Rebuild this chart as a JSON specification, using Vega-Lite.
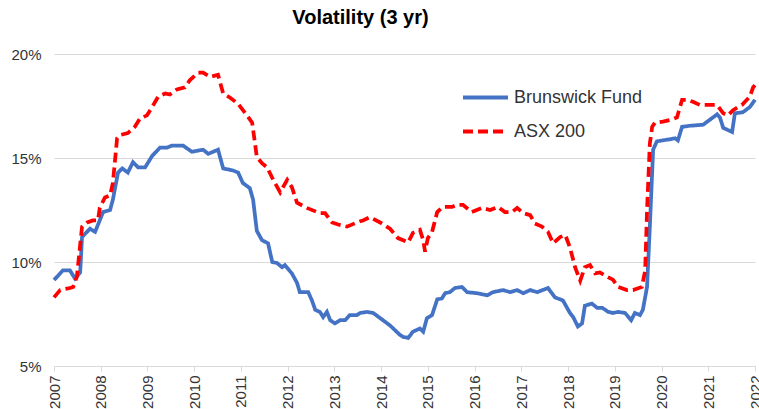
{
  "$schema": "https://vega.github.io/schema/vega-lite/v6.json",
  "width": 701,
  "height": 312,
  "autosize": {"type": "none"},
  "padding": {"left": 54, "top": 54, "right": 4, "bottom": 43},
  "background": "white",
  "config": {
    "font": "Liberation Sans",
    "view": {"stroke": null}
  },
  "title": {
    "text": "Volatility (3 yr)",
    "fontSize": 20,
    "fontWeight": "bold",
    "color": "#000000",
    "anchor": "middle",
    "dx": -44,
    "offset": 19
  },
  "data": {
    "values": [
      {"t": 2007.00, "v": 9.13, "series": "Brunswick Fund"},
      {"t": 2007.19, "v": 9.6, "series": "Brunswick Fund"},
      {"t": 2007.34, "v": 9.6, "series": "Brunswick Fund"},
      {"t": 2007.45, "v": 9.2, "series": "Brunswick Fund"},
      {"t": 2007.56, "v": 9.5, "series": "Brunswick Fund"},
      {"t": 2007.60, "v": 11.2, "series": "Brunswick Fund"},
      {"t": 2007.77, "v": 11.6, "series": "Brunswick Fund"},
      {"t": 2007.88, "v": 11.45, "series": "Brunswick Fund"},
      {"t": 2008.05, "v": 12.4, "series": "Brunswick Fund"},
      {"t": 2008.20, "v": 12.5, "series": "Brunswick Fund"},
      {"t": 2008.26, "v": 13.0, "series": "Brunswick Fund"},
      {"t": 2008.37, "v": 14.3, "series": "Brunswick Fund"},
      {"t": 2008.46, "v": 14.5, "series": "Brunswick Fund"},
      {"t": 2008.58, "v": 14.3, "series": "Brunswick Fund"},
      {"t": 2008.69, "v": 14.8, "series": "Brunswick Fund"},
      {"t": 2008.80, "v": 14.55, "series": "Brunswick Fund"},
      {"t": 2008.95, "v": 14.55, "series": "Brunswick Fund"},
      {"t": 2009.10, "v": 15.1, "series": "Brunswick Fund"},
      {"t": 2009.27, "v": 15.5, "series": "Brunswick Fund"},
      {"t": 2009.42, "v": 15.5, "series": "Brunswick Fund"},
      {"t": 2009.53, "v": 15.6, "series": "Brunswick Fund"},
      {"t": 2009.76, "v": 15.6, "series": "Brunswick Fund"},
      {"t": 2009.95, "v": 15.3, "series": "Brunswick Fund"},
      {"t": 2010.19, "v": 15.4, "series": "Brunswick Fund"},
      {"t": 2010.30, "v": 15.2, "series": "Brunswick Fund"},
      {"t": 2010.51, "v": 15.4, "series": "Brunswick Fund"},
      {"t": 2010.62, "v": 14.5, "series": "Brunswick Fund"},
      {"t": 2010.83, "v": 14.4, "series": "Brunswick Fund"},
      {"t": 2010.94, "v": 14.3, "series": "Brunswick Fund"},
      {"t": 2011.04, "v": 13.8, "series": "Brunswick Fund"},
      {"t": 2011.19, "v": 13.55, "series": "Brunswick Fund"},
      {"t": 2011.26, "v": 13.0, "series": "Brunswick Fund"},
      {"t": 2011.34, "v": 11.5, "series": "Brunswick Fund"},
      {"t": 2011.45, "v": 11.05, "series": "Brunswick Fund"},
      {"t": 2011.58, "v": 10.9, "series": "Brunswick Fund"},
      {"t": 2011.67, "v": 10.0, "series": "Brunswick Fund"},
      {"t": 2011.77, "v": 9.95, "series": "Brunswick Fund"},
      {"t": 2011.88, "v": 9.75, "series": "Brunswick Fund"},
      {"t": 2011.94, "v": 9.85, "series": "Brunswick Fund"},
      {"t": 2012.09, "v": 9.45, "series": "Brunswick Fund"},
      {"t": 2012.20, "v": 9.0, "series": "Brunswick Fund"},
      {"t": 2012.26, "v": 8.55, "series": "Brunswick Fund"},
      {"t": 2012.44, "v": 8.55, "series": "Brunswick Fund"},
      {"t": 2012.52, "v": 8.15, "series": "Brunswick Fund"},
      {"t": 2012.59, "v": 7.7, "series": "Brunswick Fund"},
      {"t": 2012.69, "v": 7.6, "series": "Brunswick Fund"},
      {"t": 2012.76, "v": 7.35, "series": "Brunswick Fund"},
      {"t": 2012.84, "v": 7.6, "series": "Brunswick Fund"},
      {"t": 2012.91, "v": 7.2, "series": "Brunswick Fund"},
      {"t": 2013.01, "v": 7.05, "series": "Brunswick Fund"},
      {"t": 2013.12, "v": 7.2, "series": "Brunswick Fund"},
      {"t": 2013.23, "v": 7.2, "series": "Brunswick Fund"},
      {"t": 2013.33, "v": 7.45, "series": "Brunswick Fund"},
      {"t": 2013.48, "v": 7.45, "series": "Brunswick Fund"},
      {"t": 2013.55, "v": 7.55, "series": "Brunswick Fund"},
      {"t": 2013.70, "v": 7.6, "series": "Brunswick Fund"},
      {"t": 2013.83, "v": 7.55, "series": "Brunswick Fund"},
      {"t": 2013.98, "v": 7.3, "series": "Brunswick Fund"},
      {"t": 2014.19, "v": 6.95, "series": "Brunswick Fund"},
      {"t": 2014.40, "v": 6.5, "series": "Brunswick Fund"},
      {"t": 2014.47, "v": 6.4, "series": "Brunswick Fund"},
      {"t": 2014.58, "v": 6.35, "series": "Brunswick Fund"},
      {"t": 2014.68, "v": 6.65, "series": "Brunswick Fund"},
      {"t": 2014.83, "v": 6.8, "series": "Brunswick Fund"},
      {"t": 2014.90, "v": 6.65, "series": "Brunswick Fund"},
      {"t": 2014.98, "v": 7.3, "series": "Brunswick Fund"},
      {"t": 2015.09, "v": 7.45, "series": "Brunswick Fund"},
      {"t": 2015.20, "v": 8.2, "series": "Brunswick Fund"},
      {"t": 2015.30, "v": 8.25, "series": "Brunswick Fund"},
      {"t": 2015.37, "v": 8.5, "series": "Brunswick Fund"},
      {"t": 2015.47, "v": 8.55, "series": "Brunswick Fund"},
      {"t": 2015.58, "v": 8.75, "series": "Brunswick Fund"},
      {"t": 2015.73, "v": 8.8, "series": "Brunswick Fund"},
      {"t": 2015.84, "v": 8.55, "series": "Brunswick Fund"},
      {"t": 2016.05, "v": 8.5, "series": "Brunswick Fund"},
      {"t": 2016.27, "v": 8.4, "series": "Brunswick Fund"},
      {"t": 2016.39, "v": 8.55, "series": "Brunswick Fund"},
      {"t": 2016.61, "v": 8.65, "series": "Brunswick Fund"},
      {"t": 2016.76, "v": 8.55, "series": "Brunswick Fund"},
      {"t": 2016.91, "v": 8.65, "series": "Brunswick Fund"},
      {"t": 2017.04, "v": 8.5, "series": "Brunswick Fund"},
      {"t": 2017.19, "v": 8.65, "series": "Brunswick Fund"},
      {"t": 2017.34, "v": 8.55, "series": "Brunswick Fund"},
      {"t": 2017.57, "v": 8.75, "series": "Brunswick Fund"},
      {"t": 2017.72, "v": 8.3, "series": "Brunswick Fund"},
      {"t": 2017.89, "v": 8.15, "series": "Brunswick Fund"},
      {"t": 2018.04, "v": 7.55, "series": "Brunswick Fund"},
      {"t": 2018.11, "v": 7.35, "series": "Brunswick Fund"},
      {"t": 2018.21, "v": 6.9, "series": "Brunswick Fund"},
      {"t": 2018.30, "v": 7.05, "series": "Brunswick Fund"},
      {"t": 2018.36, "v": 7.9, "series": "Brunswick Fund"},
      {"t": 2018.51, "v": 8.0, "series": "Brunswick Fund"},
      {"t": 2018.62, "v": 7.8, "series": "Brunswick Fund"},
      {"t": 2018.73, "v": 7.8, "series": "Brunswick Fund"},
      {"t": 2018.86, "v": 7.6, "series": "Brunswick Fund"},
      {"t": 2018.96, "v": 7.55, "series": "Brunswick Fund"},
      {"t": 2019.07, "v": 7.6, "series": "Brunswick Fund"},
      {"t": 2019.22, "v": 7.55, "series": "Brunswick Fund"},
      {"t": 2019.35, "v": 7.2, "series": "Brunswick Fund"},
      {"t": 2019.43, "v": 7.55, "series": "Brunswick Fund"},
      {"t": 2019.54, "v": 7.45, "series": "Brunswick Fund"},
      {"t": 2019.60, "v": 7.7, "series": "Brunswick Fund"},
      {"t": 2019.69, "v": 8.8, "series": "Brunswick Fund"},
      {"t": 2019.75, "v": 11.7, "series": "Brunswick Fund"},
      {"t": 2019.82, "v": 15.4, "series": "Brunswick Fund"},
      {"t": 2019.90, "v": 15.8, "series": "Brunswick Fund"},
      {"t": 2020.03, "v": 15.85, "series": "Brunswick Fund"},
      {"t": 2020.18, "v": 15.9, "series": "Brunswick Fund"},
      {"t": 2020.29, "v": 15.95, "series": "Brunswick Fund"},
      {"t": 2020.35, "v": 15.85, "series": "Brunswick Fund"},
      {"t": 2020.44, "v": 16.5, "series": "Brunswick Fund"},
      {"t": 2020.61, "v": 16.55, "series": "Brunswick Fund"},
      {"t": 2020.89, "v": 16.6, "series": "Brunswick Fund"},
      {"t": 2021.19, "v": 17.1, "series": "Brunswick Fund"},
      {"t": 2021.25, "v": 16.95, "series": "Brunswick Fund"},
      {"t": 2021.32, "v": 16.45, "series": "Brunswick Fund"},
      {"t": 2021.51, "v": 16.25, "series": "Brunswick Fund"},
      {"t": 2021.57, "v": 17.15, "series": "Brunswick Fund"},
      {"t": 2021.74, "v": 17.2, "series": "Brunswick Fund"},
      {"t": 2021.89, "v": 17.45, "series": "Brunswick Fund"},
      {"t": 2022.00, "v": 17.8, "series": "Brunswick Fund"},
      {"t": 2007.00, "v": 8.3, "series": "ASX 200"},
      {"t": 2007.13, "v": 8.65, "series": "ASX 200"},
      {"t": 2007.34, "v": 8.75, "series": "ASX 200"},
      {"t": 2007.41, "v": 8.8, "series": "ASX 200"},
      {"t": 2007.49, "v": 9.3, "series": "ASX 200"},
      {"t": 2007.60, "v": 11.7, "series": "ASX 200"},
      {"t": 2007.71, "v": 11.9, "series": "ASX 200"},
      {"t": 2007.83, "v": 12.0, "series": "ASX 200"},
      {"t": 2007.94, "v": 12.0, "series": "ASX 200"},
      {"t": 2007.98, "v": 12.6, "series": "ASX 200"},
      {"t": 2008.09, "v": 13.1, "series": "ASX 200"},
      {"t": 2008.20, "v": 13.2, "series": "ASX 200"},
      {"t": 2008.26, "v": 13.8, "series": "ASX 200"},
      {"t": 2008.35, "v": 15.95, "series": "ASX 200"},
      {"t": 2008.41, "v": 16.1, "series": "ASX 200"},
      {"t": 2008.58, "v": 16.2, "series": "ASX 200"},
      {"t": 2008.73, "v": 16.5, "series": "ASX 200"},
      {"t": 2008.84, "v": 16.9, "series": "ASX 200"},
      {"t": 2008.99, "v": 17.05, "series": "ASX 200"},
      {"t": 2009.10, "v": 17.45, "series": "ASX 200"},
      {"t": 2009.23, "v": 17.95, "series": "ASX 200"},
      {"t": 2009.38, "v": 18.1, "series": "ASX 200"},
      {"t": 2009.48, "v": 18.05, "series": "ASX 200"},
      {"t": 2009.63, "v": 18.3, "series": "ASX 200"},
      {"t": 2009.80, "v": 18.4, "series": "ASX 200"},
      {"t": 2009.91, "v": 18.75, "series": "ASX 200"},
      {"t": 2010.08, "v": 19.1, "series": "ASX 200"},
      {"t": 2010.19, "v": 19.1, "series": "ASX 200"},
      {"t": 2010.34, "v": 18.9, "series": "ASX 200"},
      {"t": 2010.51, "v": 19.0, "series": "ASX 200"},
      {"t": 2010.62, "v": 18.1, "series": "ASX 200"},
      {"t": 2010.77, "v": 17.9, "series": "ASX 200"},
      {"t": 2010.94, "v": 17.6, "series": "ASX 200"},
      {"t": 2011.13, "v": 17.05, "series": "ASX 200"},
      {"t": 2011.24, "v": 16.7, "series": "ASX 200"},
      {"t": 2011.34, "v": 15.05, "series": "ASX 200"},
      {"t": 2011.45, "v": 14.75, "series": "ASX 200"},
      {"t": 2011.56, "v": 14.55, "series": "ASX 200"},
      {"t": 2011.69, "v": 13.95, "series": "ASX 200"},
      {"t": 2011.84, "v": 13.35, "series": "ASX 200"},
      {"t": 2011.99, "v": 13.95, "series": "ASX 200"},
      {"t": 2012.09, "v": 13.6, "series": "ASX 200"},
      {"t": 2012.20, "v": 12.85, "series": "ASX 200"},
      {"t": 2012.41, "v": 12.6, "series": "ASX 200"},
      {"t": 2012.63, "v": 12.4, "series": "ASX 200"},
      {"t": 2012.69, "v": 12.35, "series": "ASX 200"},
      {"t": 2012.80, "v": 12.35, "series": "ASX 200"},
      {"t": 2012.95, "v": 11.9, "series": "ASX 200"},
      {"t": 2013.08, "v": 11.8, "series": "ASX 200"},
      {"t": 2013.27, "v": 11.7, "series": "ASX 200"},
      {"t": 2013.48, "v": 11.9, "series": "ASX 200"},
      {"t": 2013.61, "v": 12.0, "series": "ASX 200"},
      {"t": 2013.76, "v": 12.15, "series": "ASX 200"},
      {"t": 2013.98, "v": 11.9, "series": "ASX 200"},
      {"t": 2014.19, "v": 11.6, "series": "ASX 200"},
      {"t": 2014.36, "v": 11.15, "series": "ASX 200"},
      {"t": 2014.58, "v": 10.95, "series": "ASX 200"},
      {"t": 2014.68, "v": 11.4, "series": "ASX 200"},
      {"t": 2014.83, "v": 11.55, "series": "ASX 200"},
      {"t": 2014.90, "v": 11.05, "series": "ASX 200"},
      {"t": 2014.94, "v": 10.5, "series": "ASX 200"},
      {"t": 2015.00, "v": 11.15, "series": "ASX 200"},
      {"t": 2015.09, "v": 11.45, "series": "ASX 200"},
      {"t": 2015.20, "v": 12.4, "series": "ASX 200"},
      {"t": 2015.32, "v": 12.65, "series": "ASX 200"},
      {"t": 2015.52, "v": 12.65, "series": "ASX 200"},
      {"t": 2015.62, "v": 12.75, "series": "ASX 200"},
      {"t": 2015.75, "v": 12.75, "series": "ASX 200"},
      {"t": 2015.94, "v": 12.4, "series": "ASX 200"},
      {"t": 2016.16, "v": 12.6, "series": "ASX 200"},
      {"t": 2016.33, "v": 12.5, "series": "ASX 200"},
      {"t": 2016.50, "v": 12.65, "series": "ASX 200"},
      {"t": 2016.65, "v": 12.4, "series": "ASX 200"},
      {"t": 2016.80, "v": 12.4, "series": "ASX 200"},
      {"t": 2016.91, "v": 12.6, "series": "ASX 200"},
      {"t": 2017.04, "v": 12.35, "series": "ASX 200"},
      {"t": 2017.19, "v": 12.25, "series": "ASX 200"},
      {"t": 2017.29, "v": 11.85, "series": "ASX 200"},
      {"t": 2017.44, "v": 11.7, "series": "ASX 200"},
      {"t": 2017.57, "v": 11.45, "series": "ASX 200"},
      {"t": 2017.68, "v": 10.9, "series": "ASX 200"},
      {"t": 2017.83, "v": 11.2, "series": "ASX 200"},
      {"t": 2017.94, "v": 11.3, "series": "ASX 200"},
      {"t": 2018.04, "v": 10.7, "series": "ASX 200"},
      {"t": 2018.15, "v": 9.75, "series": "ASX 200"},
      {"t": 2018.26, "v": 9.1, "series": "ASX 200"},
      {"t": 2018.36, "v": 9.75, "series": "ASX 200"},
      {"t": 2018.47, "v": 9.85, "series": "ASX 200"},
      {"t": 2018.58, "v": 9.45, "series": "ASX 200"},
      {"t": 2018.68, "v": 9.5, "series": "ASX 200"},
      {"t": 2018.83, "v": 9.3, "series": "ASX 200"},
      {"t": 2018.96, "v": 9.15, "series": "ASX 200"},
      {"t": 2019.07, "v": 8.8, "series": "ASX 200"},
      {"t": 2019.26, "v": 8.65, "series": "ASX 200"},
      {"t": 2019.39, "v": 8.65, "series": "ASX 200"},
      {"t": 2019.58, "v": 8.8, "series": "ASX 200"},
      {"t": 2019.65, "v": 9.6, "series": "ASX 200"},
      {"t": 2019.69, "v": 12.5, "series": "ASX 200"},
      {"t": 2019.75, "v": 15.7, "series": "ASX 200"},
      {"t": 2019.80, "v": 16.5, "series": "ASX 200"},
      {"t": 2019.86, "v": 16.7, "series": "ASX 200"},
      {"t": 2020.03, "v": 16.75, "series": "ASX 200"},
      {"t": 2020.22, "v": 16.85, "series": "ASX 200"},
      {"t": 2020.33, "v": 16.95, "series": "ASX 200"},
      {"t": 2020.44, "v": 17.8, "series": "ASX 200"},
      {"t": 2020.55, "v": 17.8, "series": "ASX 200"},
      {"t": 2020.67, "v": 17.7, "series": "ASX 200"},
      {"t": 2020.82, "v": 17.55, "series": "ASX 200"},
      {"t": 2021.19, "v": 17.55, "series": "ASX 200"},
      {"t": 2021.32, "v": 17.15, "series": "ASX 200"},
      {"t": 2021.42, "v": 17.05, "series": "ASX 200"},
      {"t": 2021.53, "v": 17.3, "series": "ASX 200"},
      {"t": 2021.72, "v": 17.55, "series": "ASX 200"},
      {"t": 2021.89, "v": 17.95, "series": "ASX 200"},
      {"t": 2021.96, "v": 18.4, "series": "ASX 200"},
      {"t": 2022.00, "v": 18.5, "series": "ASX 200"}
    ]
  },
  "mark": {"type": "line", "strokeWidth": 3.75, "interpolate": "linear"},
  "encoding": {
    "x": {
      "field": "t",
      "type": "quantitative",
      "scale": {"domain": [2007, 2022], "nice": false, "zero": false},
      "axis": {
        "title": null,
        "values": [2007, 2008, 2009, 2010, 2011, 2012, 2013, 2014, 2015, 2016, 2017, 2018, 2019, 2020, 2021, 2022],
        "format": "d",
        "labelAngle": 270,
        "labelAlign": "right",
        "labelBaseline": "middle",
        "labelFontSize": 15,
        "labelColor": "#333333",
        "labelPadding": 4,
        "labelOverlap": false,
        "labelFlush": false,
        "grid": false,
        "domainColor": "#d9d9d9",
        "tickColor": "#d9d9d9",
        "tickSize": 5
      }
    },
    "y": {
      "field": "v",
      "type": "quantitative",
      "scale": {"domain": [5, 20], "nice": false, "zero": false},
      "axis": {
        "title": null,
        "values": [5, 10, 15, 20],
        "labelExpr": "datum.value + '%'",
        "labelFontSize": 15,
        "labelColor": "#333333",
        "labelPadding": 13,
        "domain": false,
        "ticks": false,
        "gridColor": "#d9d9d9",
        "gridWidth": 1
      }
    },
    "color": {
      "field": "series",
      "type": "nominal",
      "scale": {"domain": ["Brunswick Fund", "ASX 200"], "range": ["#4472C4", "#FF0000"]},
      "legend": {
        "title": null,
        "orient": "none",
        "legendX": 407,
        "legendY": 19,
        "symbolType": "stroke",
        "symbolSize": 2025,
        "symbolStrokeWidth": 4,
        "labelFontSize": 18,
        "labelColor": "#333333",
        "rowPadding": -4,
        "labelOffset": 4
      }
    },
    "strokeDash": {
      "field": "series",
      "type": "nominal",
      "scale": {"domain": ["Brunswick Fund", "ASX 200"], "range": [[1, 0], [10, 5]]},
      "legend": null
    }
  }
}
